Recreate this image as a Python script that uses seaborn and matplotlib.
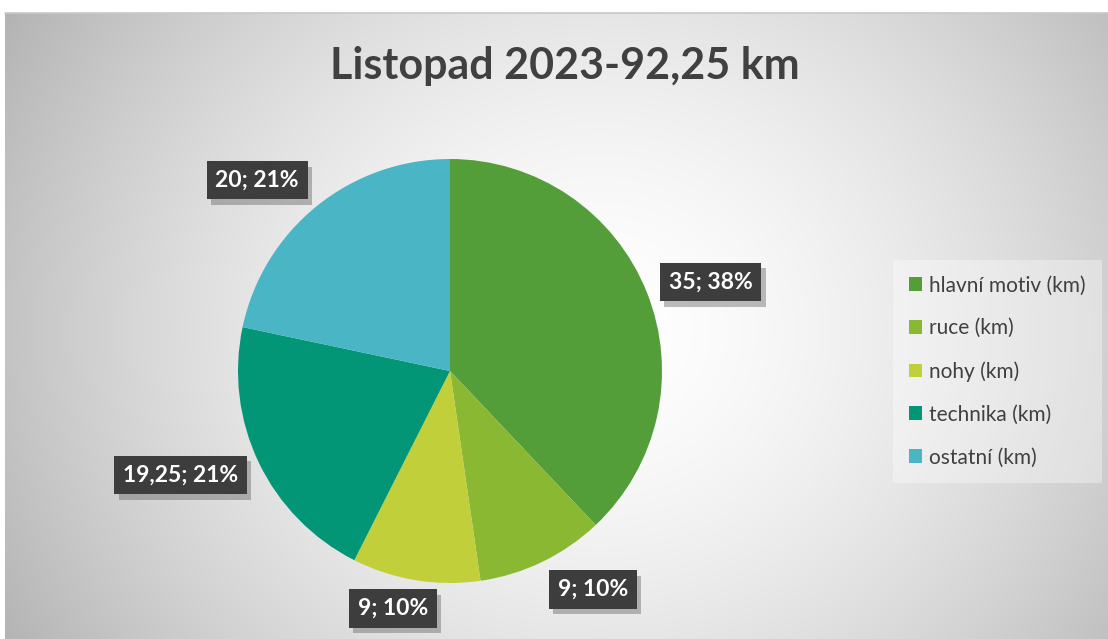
import numpy as np
import matplotlib
matplotlib.use('Agg')
import matplotlib.pyplot as plt
import matplotlib.patheffects as pe
from matplotlib.patches import Patch
import seaborn as sns

categories = ['hlavní motiv (km)', 'ruce (km)', 'nohy (km)', 'technika (km)', 'ostatní (km)']
values = [35, 9, 9, 19.25, 20]
value_labels = ['35', '9', '9', '19,25', '20']
pct_labels = ['38%', '10%', '10%', '21%', '21%']
colors = ['#549E39', '#8AB833', '#C0CF3A', '#029676', '#4AB5C4']
title = 'Listopad 2023-92,25 km'

# label offsets from pie centre in radius units
label_pos = [(1.23, 0.42), (0.675, -1.03), (-0.27, -1.12), (-1.27, -0.49), (-0.91, 0.90)]

sns.set_theme(style='white')
plt.rcParams['font.family'] = ['Lato', 'DejaVu Sans']

W, H = 1108, 639
fig = plt.figure(figsize=(W / 100, H / 100), dpi=100)
fig.patch.set_facecolor('white')

# radial gradient background
bx0, by_top = 5, 13
bg = fig.add_axes([bx0 / W, 0, 1 - bx0 / W, (H - by_top) / H])
bw, bh = W - bx0, H - by_top
yy, xx = np.mgrid[0:bh, 0:bw]
cx, cy = 600 - bx0, 330 - by_top
r = np.sqrt(((xx - cx) / 620.0) ** 2 + ((yy - cy) / 560.0) ** 2)
g = 1.0 - 0.25 * np.clip(r, 0, 1.3) ** 1.6
img = np.dstack([g, g, g])
bg.imshow(img, aspect='auto', extent=[0, 1, 0, 1], interpolation='bilinear')
bg.set_axis_off()
fig.add_artist(plt.Line2D([bx0 / W, 1], [1 - by_top / H, 1 - by_top / H],
                          color='#c8c8c8', lw=1.2))

# pie
pcx, pcy, R = 450, 371, 212
L = 1.5
size = 2 * L * R
ax = fig.add_axes([(pcx - size / 2) / W, (H - pcy - size / 2) / H, size / W, size / H])
ax.set_aspect('equal')
ax.set_axis_off()
ax.patch.set_alpha(0)
wedges, _ = ax.pie(values, colors=colors, startangle=90, counterclock=False,
                   radius=1.0, wedgeprops=dict(linewidth=0))
ax.set_xlim(-L, L)
ax.set_ylim(-L, L)

for (lx, ly), v, p in zip(label_pos, value_labels, pct_labels):
    s = f'{v}; {p}'
    t = ax.text(lx, ly, s, ha='center', va='center', fontsize=16.5, fontweight='bold',
                color='white',
                bbox=dict(boxstyle='square,pad=0.38', fc='#3d3d3d', ec='none', lw=0))
    t.get_bbox_patch().set_path_effects([
        pe.SimplePatchShadow(offset=(3, -4), shadow_rgbFace='#6a6a6a', alpha=0.45),
        pe.Normal()])

fig.text(565 / W, 1 - 66 / H, title, ha='center', va='center', fontsize=31,
         fontweight='bold', color='#404040')

handles = [Patch(facecolor=c, edgecolor='none') for c in colors]
leg = fig.legend(handles, categories, loc='center left',
                 bbox_to_anchor=(893 / W, 1 - 371.5 / H), fontsize=15,
                 frameon=True, handlelength=0.65, handleheight=0.65,
                 handletextpad=0.35, labelspacing=1.1, borderpad=0.75,
                 borderaxespad=0, fancybox=False)
fr = leg.get_frame()
fr.set_facecolor('white')
fr.set_alpha(0.35)
fr.set_edgecolor('none')
for t in leg.get_texts():
    t.set_color('#404040')

fig.savefig('out.png', dpi=100)
